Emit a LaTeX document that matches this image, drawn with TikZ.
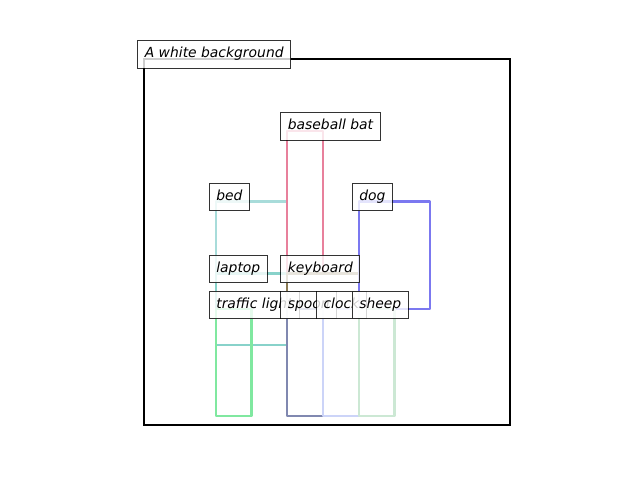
\documentclass[tikz,border=0pt]{standalone}
\usepackage{fontspec}
\setmainfont{DejaVu Sans}
\begin{document}
\begin{tikzpicture}[x=0.72pt, y=-0.72pt,
  box/.style={line width=1.5pt, line join=round},
  tag/.style={anchor=west, xshift=-5pt, font=\fontsize{10}{12}\selectfont\itshape,
    fill=white, fill opacity=0.8, text opacity=1, draw=black, draw opacity=0.8,
    line width=0.75pt, inner xsep=5pt, inner ysep=5pt,
    text height=7.6pt, text depth=2.4pt}]
\definecolor{cBed}{HTML}{A8DCDA}
\definecolor{cLaptop}{HTML}{88D2CA}
\definecolor{cBat}{HTML}{E8809C}
\definecolor{cKeyboard}{HTML}{8A7A52}
\definecolor{cDog}{HTML}{7B78F0}
\definecolor{cTraffic}{HTML}{80E8A0}
\definecolor{cSpoon}{HTML}{8088B0}
\definecolor{cClock}{HTML}{CCD4F8}
\definecolor{cSheep}{HTML}{CCE8D4}
\useasboundingbox (0,0) rectangle (640,480);
\fill[white] (0,0) rectangle (640,480);

% image frame
\draw[black, line width=1.5pt] (144.3,59.3) rectangle (510,425);

% object boxes
\draw[box, cBed]      (215.8,201.5) rectangle (287.3,344.9);
\draw[box, cLaptop]   (215.8,273.5) rectangle (287.3,344.9);
\draw[box, cBat]      (287.3,130.7) rectangle (323,273.5);
\draw[box, cKeyboard] (287.3,273.5) rectangle (358.8,309.2);
\draw[box, cDog]      (358.8,201.5) rectangle (430.3,309.2);
\draw[box, cTraffic]  (215.8,309.2) rectangle (251.5,416.3);
\draw[box, cSpoon]    (287.3,309.2) rectangle (323,416.3);
\draw[box, cClock]    (323,309.2) rectangle (358.8,416.3);
\draw[box, cSheep]    (358.8,309.2) rectangle (394.5,416.3);

% labels
\node[tag] (lbg)  at (144.3,54.3) {A white background};
\node[tag] (lbat) at (287.3,126.3) {baseball bat};
\node[tag] (lbed) at (215.8,197) {bed};
\node[tag] (ldog) at (358.8,197) {dog};
\node[tag] (llap) at (215.8,269) {laptop};
\node[tag] (lkey) at (287.3,269) {keyboard};
\node[tag] (ltra) at (215.8,305) {traffic light};
\node[tag] (lspo) at (287.3,305) {spoon};
\node[tag] (lclo) at (323,305) {clock};
\node[tag] (lshe) at (358.8,305) {sheep};
\end{tikzpicture}
\end{document}
